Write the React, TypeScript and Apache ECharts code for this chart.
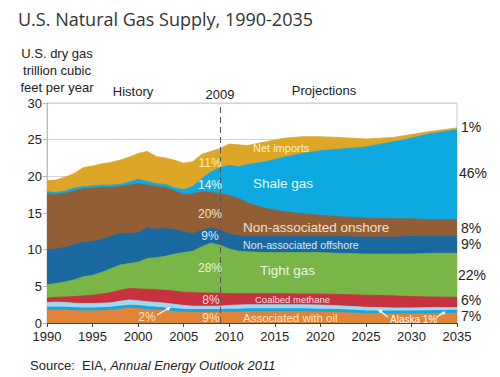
import { useEffect, useRef } from "react";
import * as echarts from "echarts";

const years = [1990, 1991, 1992, 1993, 1994, 1995, 1996, 1997, 1998, 1999, 2000, 2001, 2002, 2003, 2004, 2005, 2006, 2007, 2008, 2009, 2010, 2011, 2012, 2014, 2016, 2018, 2020, 2022, 2025, 2028, 2030, 2032, 2035];

const associatedWithOil = [2.0, 2.0, 2.0, 1.95, 1.9, 1.9, 1.95, 2.0, 2.15, 2.3, 2.25, 2.1, 2.0, 1.95, 1.85, 1.75, 1.7, 1.7, 1.7, 1.7, 1.75, 1.75, 1.8, 1.8, 1.8, 1.8, 1.75, 1.7, 1.55, 1.5, 1.5, 1.55, 1.6];
const alaska = [0.8, 0.85, 0.8, 0.75, 0.75, 0.75, 0.75, 0.75, 0.8, 0.85, 0.8, 0.8, 0.8, 0.75, 0.7, 0.65, 0.6, 0.6, 0.6, 0.6, 0.65, 0.7, 0.7, 0.7, 0.7, 0.7, 0.7, 0.65, 0.6, 0.55, 0.55, 0.55, 0.5];
const coalbedMethane = [0.6, 0.65, 0.75, 0.9, 1.05, 1.15, 1.25, 1.4, 1.5, 1.55, 1.6, 1.7, 1.75, 1.75, 1.8, 1.8, 1.85, 1.8, 1.8, 1.75, 1.6, 1.55, 1.5, 1.5, 1.5, 1.45, 1.5, 1.55, 1.65, 1.65, 1.55, 1.45, 1.4];
const tightGas = [1.8, 1.9, 2.05, 2.3, 2.6, 2.7, 2.95, 3.25, 3.45, 3.4, 3.65, 4.2, 4.35, 4.65, 5.05, 5.4, 5.65, 6.3, 6.8, 6.55, 6.1, 5.8, 5.7, 5.6, 5.6, 5.65, 5.65, 5.6, 5.6, 5.7, 5.8, 5.95, 6.0];
const offshore = [4.8, 4.7, 4.7, 4.8, 4.7, 4.6, 4.5, 4.4, 4.3, 4.1, 4.0, 4.2, 3.9, 3.8, 3.3, 2.8, 2.4, 2.2, 2.1, 2.0, 2.0, 2.1, 2.1, 2.2, 2.2, 2.2, 2.2, 2.3, 2.3, 2.3, 2.4, 2.3, 2.3];
const onshore = [7.6, 7.4, 7.4, 7.3, 7.3, 7.3, 7.1, 6.7, 6.4, 6.6, 6.7, 5.8, 5.8, 5.6, 5.3, 5.1, 5.4, 5.3, 4.8, 5.0, 5.3, 5.1, 4.6, 3.8, 3.4, 3.1, 2.9, 2.7, 2.6, 2.5, 2.4, 2.3, 2.3];
const shaleGas = [0.3, 0.3, 0.3, 0.4, 0.3, 0.3, 0.3, 0.3, 0.3, 0.4, 0.6, 0.5, 0.4, 0.4, 0.4, 0.7, 1.0, 1.8, 2.8, 3.6, 4.1, 4.3, 5.2, 6.4, 7.4, 8.2, 8.8, 9.2, 9.7, 10.5, 11.0, 11.7, 12.25];
const netImports = [1.5, 1.7, 1.9, 2.0, 2.6, 2.7, 2.9, 3.1, 3.3, 3.4, 3.5, 4.1, 3.7, 3.6, 3.8, 3.6, 3.4, 3.3, 2.8, 2.6, 2.9, 3.0, 2.6, 2.7, 2.6, 2.3, 1.9, 1.6, 1.1, 0.6, 0.5, 0.3, 0.25];

const xTickYears = [1990, 2035, 5];
const yTicks = [0, 30, 5];
const dividerYear = 2009;

const rightShares = ["1%", "46%", "8%", "9%", "22%", "6%", "7%"];
const historyShares = ["11%", "14%", "20%", "9%", "28%", "8%", "9%", "2%"];

const ARIAL = '"Liberation Sans", Arial, sans-serif';

// bottom-to-top stacking order
const layers: [string, number[], string][] = [
  ["Associated with oil", associatedWithOil, "#e0843a"],
  ["Alaska", alaska, "#9fd8ef"],
  ["Coalbed methane", coalbedMethane, "#c6323f"],
  ["Tight gas", tightGas, "#7ab547"],
  ["Non-associated offshore", offshore, "#1a68a0"],
  ["Non-associated onshore", onshore, "#925e36"],
  ["Shale gas", shaleGas, "#0fa9e2"],
  ["Net imports", netImports, "#dea626"],
];

export default function App() {
  const ref = useRef<HTMLDivElement>(null);
  useEffect(() => {
    const chart = echarts.init(ref.current!, null, { renderer: "svg" });
    const running = years.map(() => 0);
    const cumulative = layers.map(([name, vals, color]) => {
      const tops = vals.map((v, i) => (running[i] = Math.round((running[i] + v) * 1000) / 1000));
      return { name, color, tops };
    });
    const series: any[] = cumulative
      .slice()
      .reverse()
      .map(({ name, color, tops }) => ({
        name,
        type: "line",
        data: years.map((y, i) => [y, tops[i]]),
        symbol: "none",
        showSymbol: false,
        lineStyle: { width: 0.8, color },
        areaStyle: { color, opacity: 1 },
        itemStyle: { color },
        silent: true,
      }));
    const oil = series[series.length - 1];
    oil.lineStyle = { width: 3, color: "#1aa6dc" };
    oil.markLine = {
      silent: true,
      symbol: "none",
      label: { show: false },
      lineStyle: { color: "#555", type: [6, 4], width: 1 },
      data: [{ xAxis: dividerYear }],
    };

    const txt = (x: number, y: number, text: string, size: number, fill: string, align = "center", extra: any = {}) => ({
      type: "text",
      x,
      y,
      z: 100,
      silent: true,
      style: { text, fill, align, verticalAlign: "middle", font: `${size}px ${ARIAL}`, ...extra },
    });
    const rightX = [461, 459, 461, 461, 458, 461, 461];
    const rightY = [127, 173, 228, 244, 275, 300, 316];
    const histPos = [
      [210, 163, "#fbeeb8"],
      [210, 185, "#e6f7fd"],
      [210, 214, "#f5e1cf"],
      [210, 236, "#d5ebf8"],
      [210, 268, "#eaf6dc"],
      [211, 300, "#fadde2"],
      [211, 318, "#fde6cc"],
      [147, 317, "#fde6cc"],
    ];
    const graphics: any[] = [
      {
        type: "text",
        x: 18,
        y: 19,
        z: 100,
        silent: true,
        style: { text: "U.S. Natural Gas Supply, 1990-2035", fill: "#333", verticalAlign: "middle", font: '18px "Open Sans", sans-serif' },
      },
      txt(57, 53, "U.S. dry gas", 13, "#222"),
      txt(57, 70, "trillion cubic", 13, "#222"),
      txt(57, 87, "feet per year", 13, "#222"),
      txt(133, 91, "History", 13, "#222"),
      txt(220, 94, "2009", 13, "#222"),
      txt(324, 90, "Projections", 13, "#222"),
      ...rightShares.map((s, i) => txt(rightX[i], rightY[i], s, 14, "#222", "left")),
      ...historyShares.map((s, i) => txt(histPos[i][0] as number, histPos[i][1] as number, s, 12, histPos[i][2] as string)),
      txt(253, 148, "Net imports", 11, "#fbf0c4", "left"),
      txt(253, 183, "Shale gas", 13.5, "#e8f8fe", "left"),
      txt(243, 227, "Non-associated onshore", 13.5, "#f3e0cc", "left"),
      txt(243, 245, "Non-associated offshore", 10.7, "#d3eafa", "left"),
      txt(260, 270, "Tight gas", 13.5, "#edf7e0", "left"),
      txt(255, 299, "Coalbed methane", 9.5, "#fbdde2", "left"),
      txt(243, 318, "Associated with oil", 11.5, "#fde6cc", "left"),
      txt(390, 319, "Alaska 1%", 10, "#ffffff", "left"),
      { type: "line", z: 100, silent: true, shape: { x1: 157, y1: 315, x2: 169, y2: 308 }, style: { stroke: "#fff", lineWidth: 1.2 } },
      { type: "polygon", z: 100, silent: true, shape: { points: [[171, 307], [165, 307.5], [168, 311]] }, style: { fill: "#fff" } },
      { type: "line", z: 100, silent: true, shape: { x1: 388, y1: 317, x2: 380, y2: 311 }, style: { stroke: "#fff", lineWidth: 1.2 } },
      { type: "polygon", z: 100, silent: true, shape: { points: [[378, 309.5], [383, 310.5], [380, 313.5]] }, style: { fill: "#fff" } },
      { type: "line", z: 100, silent: true, shape: { x1: 436, y1: 317.5, x2: 444, y2: 312.5 }, style: { stroke: "#fff", lineWidth: 1.2 } },
      { type: "polygon", z: 100, silent: true, shape: { points: [[446, 311.5], [441, 312], [444, 315]] }, style: { fill: "#fff" } },
      {
        type: "text",
        x: 30,
        y: 365,
        z: 100,
        silent: true,
        style: {
          text: "Source:  EIA, {i|Annual Energy Outlook 2011}",
          fill: "#222",
          verticalAlign: "middle",
          font: `13px ${ARIAL}`,
          rich: { i: { fontStyle: "italic", fontSize: 13, fontFamily: ARIAL, fill: "#222" } },
        },
      },
    ];
    chart.setOption({
      animation: false,
      grid: { left: 47, right: 43, top: 103, bottom: 54, show: true, borderColor: "#cccccc", borderWidth: 1 },
      xAxis: {
        type: "value",
        min: xTickYears[0],
        max: xTickYears[1],
        interval: xTickYears[2],
        axisLine: { lineStyle: { color: "#444", width: 1 } },
        axisTick: { show: true, length: 4, lineStyle: { color: "#444" } },
        splitLine: { show: false },
        axisLabel: { color: "#222", fontSize: 13, fontFamily: ARIAL, margin: 7, formatter: (v: number) => String(v) },
      },
      yAxis: {
        type: "value",
        min: yTicks[0],
        max: yTicks[1],
        interval: yTicks[2],
        axisLine: { show: true, lineStyle: { color: "#bbbbbb" } },
        axisTick: { show: true, length: 4, lineStyle: { color: "#bbbbbb" } },
        splitLine: { show: true, lineStyle: { color: "#d5d5d5" } },
        axisLabel: { color: "#222", fontSize: 13, fontFamily: ARIAL, margin: 5 },
      },
      series,
      graphic: graphics,
    });
    return () => chart.dispose();
  }, []);
  return <div ref={ref} style={{ position: "fixed", left: 0, top: 0, width: 500, height: 377, background: "#fff" }} />;
}
